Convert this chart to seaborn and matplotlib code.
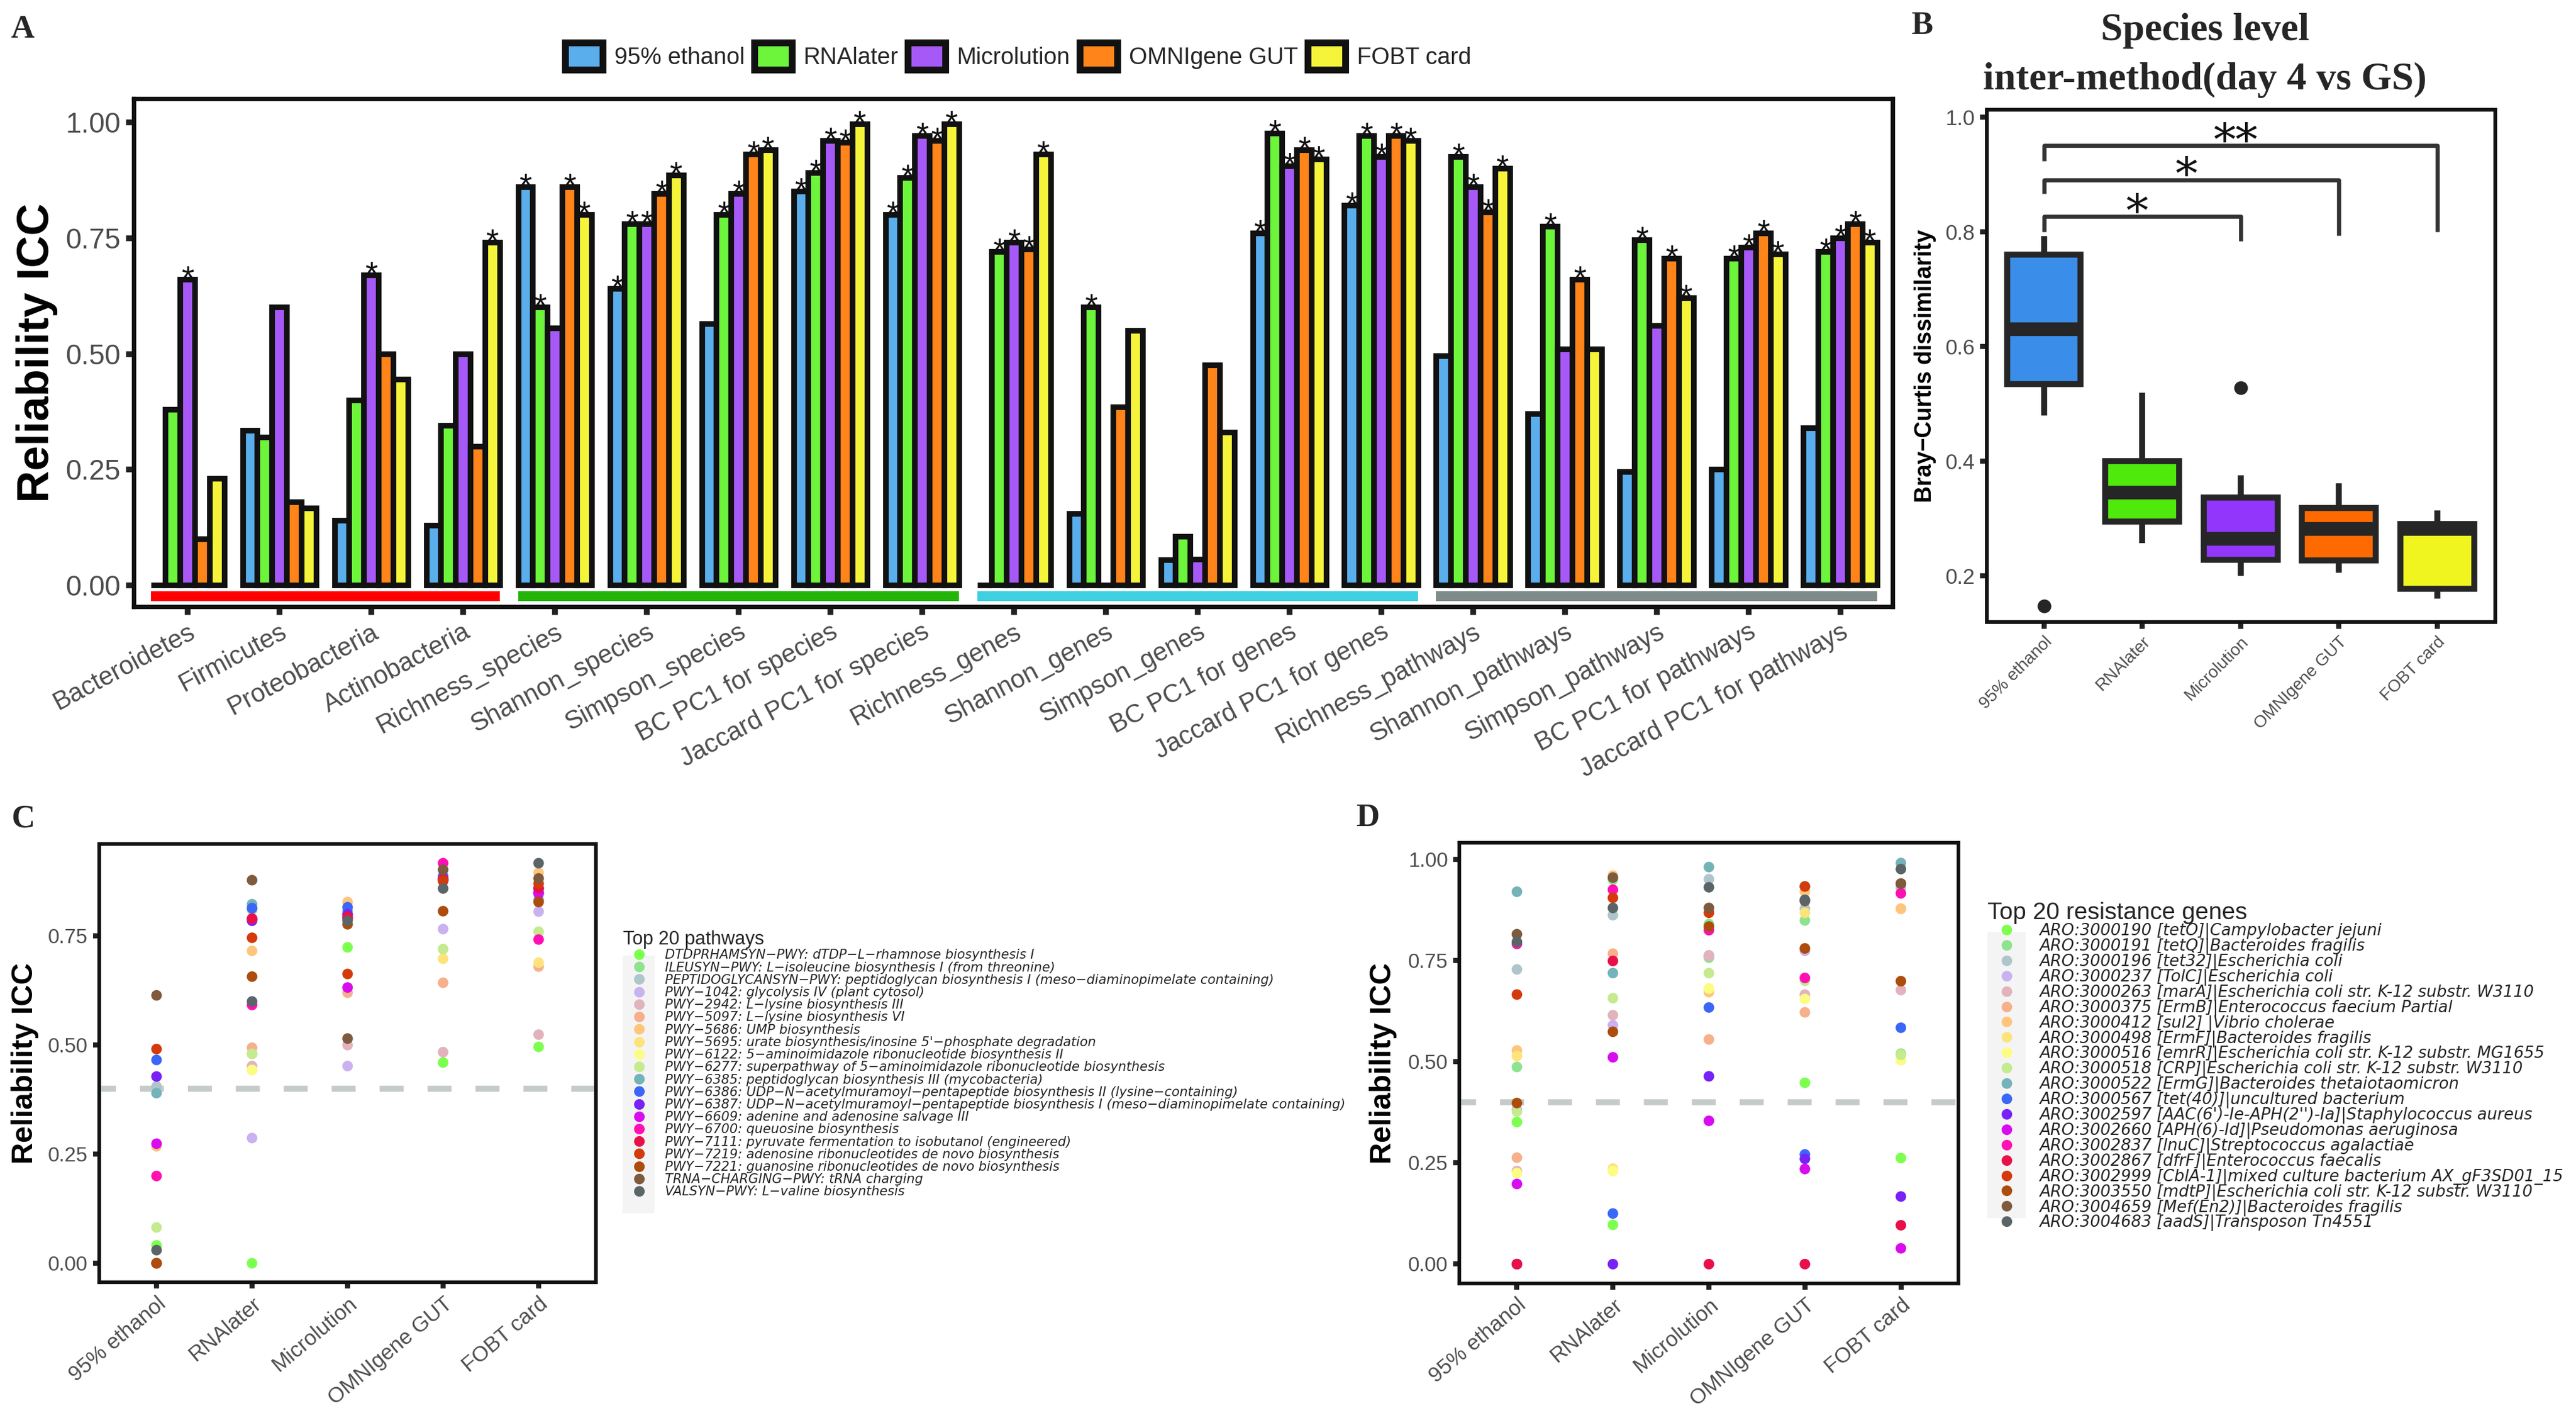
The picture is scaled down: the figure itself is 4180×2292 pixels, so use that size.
import numpy as np
import pandas as pd
import matplotlib
matplotlib.use("Agg")
import matplotlib.pyplot as plt
import seaborn as sns
from matplotlib.patches import Patch, Rectangle
from matplotlib.lines import Line2D

sns.set_theme(style="white")
plt.rcParams["font.family"] = ["Liberation Sans", "DejaVu Sans"]

# ---------------- data: panel A ----------------
methods = ["95% ethanol", "RNAlater", "Microlution", "OMNIgene GUT", "FOBT card"]
features = ["Bacteroidetes", "Firmicutes", "Proteobacteria", "Actinobacteria",
            "Richness_species", "Shannon_species", "Simpson_species", "BC PC1 for species",
            "Jaccard PC1 for species",
            "Richness_genes", "Shannon_genes", "Simpson_genes", "BC PC1 for genes",
            "Jaccard PC1 for genes",
            "Richness_pathways", "Shannon_pathways", "Simpson_pathways", "BC PC1 for pathways",
            "Jaccard PC1 for pathways"]
feature_class = ["taxa"] * 4 + ["species"] * 5 + ["genes"] * 5 + ["pathways"] * 5
class_colors = {"taxa": "#FF0000", "species": "#22B507", "genes": "#3ECFE0", "pathways": "#7F8A8A"}

icc_ethanol = [0.0, 0.335, 0.14, 0.13, 0.86, 0.64, 0.565, 0.85, 0.80,
               0.0, 0.155, 0.055, 0.76, 0.82, 0.495, 0.37, 0.245, 0.25, 0.34]
icc_rnalater = [0.38, 0.32, 0.40, 0.345, 0.60, 0.78, 0.80, 0.89, 0.88,
                0.72, 0.60, 0.105, 0.975, 0.97, 0.925, 0.775, 0.745, 0.705, 0.72]
icc_microlution = [0.66, 0.60, 0.67, 0.50, 0.555, 0.78, 0.845, 0.96, 0.97,
                   0.74, 0.0, 0.057, 0.905, 0.925, 0.86, 0.51, 0.56, 0.73, 0.75]
icc_omnigene = [0.10, 0.18, 0.50, 0.30, 0.86, 0.845, 0.93, 0.955, 0.96,
                0.725, 0.385, 0.475, 0.94, 0.97, 0.805, 0.66, 0.705, 0.76, 0.78]
icc_fobt = [0.23, 0.167, 0.445, 0.74, 0.80, 0.885, 0.94, 0.995, 0.995,
            0.93, 0.55, 0.33, 0.92, 0.96, 0.90, 0.51, 0.62, 0.715, 0.74]

sig_ethanol = [0, 0, 0, 0, 1, 1, 0, 1, 1, 0, 0, 0, 1, 1, 0, 0, 0, 0, 0]
sig_rnalater = [0, 0, 0, 0, 1, 1, 1, 1, 1, 1, 1, 0, 1, 1, 1, 1, 1, 1, 1]
sig_microlution = [1, 0, 1, 0, 0, 1, 1, 1, 1, 1, 0, 0, 1, 1, 1, 0, 0, 1, 1]
sig_omnigene = [0, 0, 0, 0, 1, 1, 1, 1, 1, 1, 0, 0, 1, 1, 1, 1, 1, 1, 1]
sig_fobt = [0, 0, 0, 1, 1, 1, 1, 1, 1, 1, 0, 0, 1, 1, 1, 0, 1, 1, 1]

colors_A = ["#5AAEEC", "#6DF53B", "#A759F7", "#FF8419", "#F5F43A"]

# ---------------- data: panel B ----------------
bc_ethanol = [0.147, 0.48, 0.535, 0.58, 0.63, 0.70, 0.76, 0.78, 0.793]
bc_rnalater = [0.257, 0.28, 0.295, 0.32, 0.345, 0.37, 0.40, 0.45, 0.52]
bc_microlution = [0.20, 0.215, 0.228, 0.25, 0.265, 0.30, 0.337, 0.375, 0.528]
bc_omnigene = [0.205, 0.215, 0.227, 0.26, 0.282, 0.30, 0.318, 0.34, 0.362]
bc_fobt = [0.16, 0.17, 0.178, 0.23, 0.282, 0.285, 0.29, 0.30, 0.314]
colors_B = ["#3A8EEA", "#4FEA0C", "#9236FB", "#FF6A00", "#F0F520"]
bracket_pairs = [(0, 2), (0, 3), (0, 4)]
bracket_y = [0.827, 0.891, 0.951]
bracket_left_end = [0.80, 0.867, 0.924]
bracket_right_end = [0.784, 0.794, 0.80]
bracket_labels = ["*", "*", "**"]

# ---------------- data: panel C ----------------
pathways = ["DTDPRHAMSYN\u2212PWY: dTDP\u2212L\u2212rhamnose biosynthesis I",
            "ILEUSYN\u2212PWY: L\u2212isoleucine biosynthesis I (from threonine)",
            "PEPTIDOGLYCANSYN\u2212PWY: peptidoglycan biosynthesis I (meso\u2212diaminopimelate containing)",
            "PWY\u22121042: glycolysis IV (plant cytosol)",
            "PWY\u22122942: L\u2212lysine biosynthesis III",
            "PWY\u22125097: L\u2212lysine biosynthesis VI",
            "PWY\u22125686: UMP biosynthesis",
            "PWY\u22125695: urate biosynthesis/inosine 5'\u2212phosphate degradation",
            "PWY\u22126122: 5\u2212aminoimidazole ribonucleotide biosynthesis II",
            "PWY\u22126277: superpathway of 5\u2212aminoimidazole ribonucleotide biosynthesis",
            "PWY\u22126385: peptidoglycan biosynthesis III (mycobacteria)",
            "PWY\u22126386: UDP\u2212N\u2212acetylmuramoyl\u2212pentapeptide biosynthesis II (lysine\u2212containing)",
            "PWY\u22126387: UDP\u2212N\u2212acetylmuramoyl\u2212pentapeptide biosynthesis I (meso\u2212diaminopimelate containing)",
            "PWY\u22126609: adenine and adenosine salvage III",
            "PWY\u22126700: queuosine biosynthesis",
            "PWY\u22127111: pyruvate fermentation to isobutanol (engineered)",
            "PWY\u22127219: adenosine ribonucleotides de novo biosynthesis",
            "PWY\u22127221: guanosine ribonucleotides de novo biosynthesis",
            "TRNA\u2212CHARGING\u2212PWY: tRNA charging",
            "VALSYN\u2212PWY: L\u2212valine biosynthesis"]
pw_ethanol = [0.041, 0.0, 0.405, 0.0, 0.0, 0.0, 0.268, 0.0, 0.0, 0.082,
              0.39, 0.466, 0.428, 0.274, 0.20, 0.0, 0.491, 0.0, 0.614, 0.03]
pw_rnalater = [0.0, 0.48, 0.81, 0.287, 0.452, 0.494, 0.716, 0.443, 0.443, 0.48,
               0.823, 0.814, 0.785, 0.789, 0.592, 0.79, 0.746, 0.657, 0.878, 0.60]
pw_microlution = [0.724, 0.80, 0.80, 0.452, 0.50, 0.62, 0.828, 0.79, 0.79, 0.79,
                  0.808, 0.816, 0.80, 0.632, 0.79, 0.794, 0.663, 0.777, 0.515, 0.785]
pw_omnigene = [0.46, 0.88, 0.88, 0.766, 0.484, 0.643, 0.88, 0.698, 0.88, 0.72,
               0.88, 0.887, 0.88, 0.88, 0.917, 0.88, 0.876, 0.807, 0.902, 0.859]
pw_fobt = [0.496, 0.85, 0.85, 0.806, 0.524, 0.68, 0.895, 0.689, 0.85, 0.76,
           0.833, 0.858, 0.85, 0.847, 0.742, 0.86, 0.87, 0.828, 0.882, 0.917]

# ---------------- data: panel D ----------------
genes = ["ARO:3000190 [tetO]|Campylobacter jejuni",
         "ARO:3000191 [tetQ]|Bacteroides fragilis",
         "ARO:3000196 [tet32]|Escherichia coli",
         "ARO:3000237 [TolC]|Escherichia coli",
         "ARO:3000263 [marA]|Escherichia coli str. K-12 substr. W3110",
         "ARO:3000375 [ErmB]|Enterococcus faecium Partial",
         "ARO:3000412 [sul2] |Vibrio cholerae",
         "ARO:3000498 [ErmF]|Bacteroides fragilis",
         "ARO:3000516 [emrR]|Escherichia coli str. K-12 substr. MG1655",
         "ARO:3000518 [CRP]|Escherichia coli str. K-12 substr. W3110",
         "ARO:3000522 [ErmG]|Bacteroides thetaiotaomicron",
         "ARO:3000567 [tet(40)]|uncultured bacterium",
         "ARO:3002597 [AAC(6')-Ie-APH(2'')-Ia]|Staphylococcus aureus",
         "ARO:3002660 [APH(6)-Id]|Pseudomonas aeruginosa",
         "ARO:3002837 [lnuC]|Streptococcus agalactiae",
         "ARO:3002867 [dfrF]|Enterococcus faecalis",
         "ARO:3002999 [CblA-1]|mixed culture bacterium AX_gF3SD01_15",
         "ARO:3003550 [mdtP]|Escherichia coli str. K-12 substr. W3110",
         "ARO:3004659 [Mef(En2)]|Bacteroides fragilis",
         "ARO:3004683 [aadS]|Transposon Tn4551"]
gene_ethanol = [0.351, 0.487, 0.728, 0.382, 0.23, 0.263, 0.528, 0.514, 0.225, 0.377,
                0.92, 0.0, 0.0, 0.198, 0.791, 0.0, 0.666, 0.398, 0.815, 0.796]
gene_rnalater = [0.097, 0.95, 0.862, 0.59, 0.615, 0.767, 0.96, 0.236, 0.23, 0.657,
                 0.719, 0.125, 0.0, 0.511, 0.925, 0.749, 0.905, 0.574, 0.955, 0.88]
gene_microlution = [0.757, 0.84, 0.951, 0.76, 0.763, 0.555, 0.672, 0.68, 0.681, 0.719,
                    0.981, 0.634, 0.464, 0.354, 0.825, 0.0, 0.868, 0.834, 0.88, 0.931]
gene_omnigene = [0.448, 0.849, 0.878, 0.774, 0.666, 0.622, 0.92, 0.868, 0.655, 0.70,
                 0.933, 0.271, 0.26, 0.235, 0.707, 0.0, 0.933, 0.78, 0.897, 0.90]
gene_fobt = [0.262, 0.52, 0.93, 0.94, 0.677, 0.878, 0.878, 0.504, 0.504, 0.517,
             0.991, 0.584, 0.167, 0.039, 0.916, 0.096, 0.94, 0.699, 0.94, 0.976]

dot_palette = ["#7CFF4E", "#8FE38E", "#AFC5CC", "#C9B2EF", "#E2B3BD", "#F7B08C", "#FEC67C",
               "#FEE37D", "#FDFC82", "#C5EA8F", "#74B3B8", "#3B67F7", "#7822F6", "#D80CEE",
               "#FF10B3", "#E9104A", "#D43A0A", "#AC4C0D", "#7E5A3E", "#5B6567"]
threshold = 0.4

# ---------------- figure ----------------
W, H = 4180, 2292
DPI = 200
fig = plt.figure(figsize=(W / DPI, H / DPI), dpi=DPI)
fig.patch.set_facecolor("white")

def px_rect(l, t, r, b):
    return [l / W, 1 - b / H, (r - l) / W, (b - t) / H]

TICKC = "#4D4D4D"

def style_axes(ax, spine_lw, tick_len, tick_w, lab_size):
    for s in ax.spines.values():
        s.set_visible(True)
        s.set_color("#111111")
        s.set_linewidth(spine_lw)
    ax.tick_params(axis="both", which="major", length=tick_len, width=tick_w,
                   color="#222222", labelcolor=TICKC, labelsize=lab_size, direction="out",
                   left=True, bottom=True, pad=3)
    ax.grid(False)
    ax.set_facecolor("white")

# ---------- Panel A ----------
axA = fig.add_axes(px_rect(217, 160, 3071, 984))
dfA = pd.DataFrame({
    "feature": features * 5,
    "method": sum([[m] * len(features) for m in methods], []),
    "icc": icc_ethanol + icc_rnalater + icc_microlution + icc_omnigene + icc_fobt,
})
sns.barplot(data=dfA, x="feature", y="icc", hue="method", order=features, hue_order=methods,
            palette=colors_A, saturation=1, width=0.8, edgecolor="#111111", linewidth=3.3,
            errorbar=None, legend=False, ax=axA)
sigs = [sig_ethanol, sig_rnalater, sig_microlution, sig_omnigene, sig_fobt]
for j, cont in enumerate(axA.containers):
    for i, bar in enumerate(cont):
        if sigs[j][i]:
            axA.text(bar.get_x() + bar.get_width() / 2, bar.get_height() - 0.02, "*",
                     ha="center", va="baseline", fontsize=19, color="#111111")
ticks = axA.get_xticks()
for cls in ["taxa", "species", "genes", "pathways"]:
    idx = [k for k, c in enumerate(feature_class) if c == cls]
    axA.plot([ticks[idx[0]] - 0.4, ticks[idx[-1]] + 0.4], [-0.023, -0.023],
             color=class_colors[cls], lw=5.8, solid_capstyle="butt")
axA.set_xlim(-0.585, 18.57)
axA.set_ylim(-0.046, 1.05)
axA.set_yticks([0, 0.25, 0.5, 0.75, 1.0])
axA.set_yticklabels(["0.00", "0.25", "0.50", "0.75", "1.00"])
style_axes(axA, 2.6, 4.6, 3.4, 16.5)
axA.tick_params(axis="x", labelsize=15)
for lab in axA.get_xticklabels():
    lab.set_rotation(28)
    lab.set_ha("right")
    lab.set_rotation_mode("anchor")
axA.set_xlabel("")
axA.set_ylabel("Reliability ICC", fontsize=26, fontweight="bold", color="black")
axA.yaxis.set_label_coords(-0.043, 0.5)

legA = fig.legend([Patch(facecolor=c, edgecolor="#111111", linewidth=4) for c in colors_A], methods,
                  loc="center", bbox_to_anchor=(1652 / W, 1 - 91 / H), ncol=5, frameon=False,
                  fontsize=13.7, handlelength=1.6, handleheight=1.4, handletextpad=0.5,
                  columnspacing=0.4)

# ---------- Panel B ----------
axB = fig.add_axes(px_rect(3224, 178, 4049, 1009))
bc_all = [bc_ethanol, bc_rnalater, bc_microlution, bc_omnigene, bc_fobt]
dfB = pd.DataFrame({"method": sum([[m] * len(v) for m, v in zip(methods, bc_all)], []),
                    "bc": sum(bc_all, [])})
sns.boxplot(data=dfB, x="method", y="bc", hue="method", order=methods, hue_order=methods,
            palette=colors_B, saturation=1, width=0.75, linewidth=3.5, linecolor="#262626",
            showcaps=False, fliersize=7, whis=1.5,
            medianprops={"linewidth": 8, "color": "#262626"},
            flierprops={"marker": "o", "markerfacecolor": "#262626", "markeredgecolor": "#262626"},
            legend=False, ax=axB)
for (a, b), y, yl, yr, lab in zip(bracket_pairs, bracket_y, bracket_left_end,
                                  bracket_right_end, bracket_labels):
    axB.plot([a, a, b, b], [yl, y, y, yr], color="#333333", lw=2.4, solid_capstyle="butt")
    axB.text((a + b) / 2 - 0.05, y - 0.018, lab, ha="center", va="baseline",
             fontsize=26, color="#111111", family=["DejaVu Serif"])
axB.set_xlim(-0.58, 4.59)
axB.set_ylim(0.1195, 1.0132)
axB.set_yticks([0.2, 0.4, 0.6, 0.8, 1.0])
axB.set_yticklabels(["0.2", "0.4", "0.6", "0.8", "1.0"])
style_axes(axB, 2.2, 3.8, 3.0, 12.5)
axB.tick_params(axis="x", labelsize=10)
for lab in axB.get_xticklabels():
    lab.set_rotation(45)
    lab.set_ha("right")
    lab.set_rotation_mode("anchor")
axB.set_xlabel("")
axB.set_ylabel("Bray\u2212Curtis dissimilarity", fontsize=13.5, fontweight="bold", color="black")
axB.yaxis.set_label_coords(-0.10, 0.5)
fig.text(3578 / W, 1 - 50 / H, "Species level", ha="center", va="center", fontsize=23,
         fontweight="bold", family=["Liberation Serif"])
fig.text(3578 / W, 1 - 130 / H, "inter-method(day 4 vs GS)", ha="center", va="center",
         fontsize=23, fontweight="bold", family=["Liberation Serif"])

# ---------- Panels C and D ----------
def dot_panel(ax, names, vals_by_method, ylim, yt, ylabs):
    df = pd.DataFrame({"method": sum([[m] * len(names) for m in methods], []),
                       "item": names * len(methods),
                       "icc": sum(vals_by_method, [])})
    sns.stripplot(data=df, x="method", y="icc", hue="item", hue_order=names, order=methods,
                  palette=dot_palette, jitter=False, dodge=False, size=6.2, linewidth=0,
                  legend=False, ax=ax)
    ax.axhline(threshold, color="#C4CBC8", lw=3.5, ls=(1.2, (4, 4)), zorder=0.5)
    ax.set_xlim(-0.6, 4.6)
    ax.set_ylim(*ylim)
    ax.set_yticks(yt)
    ax.set_yticklabels(ylabs)
    style_axes(ax, 2.1, 3.6, 3.0, 12)
    ax.tick_params(axis="x", labelsize=12.5)
    for lab in ax.get_xticklabels():
        lab.set_rotation(40)
        lab.set_ha("right")
        lab.set_rotation_mode("anchor")
    ax.set_xlabel("")
    ax.set_ylabel("Reliability ICC", fontsize=17.5, fontweight="bold", color="black")

axC = fig.add_axes(px_rect(161, 1369, 967, 2080))
dot_panel(axC, pathways, [pw_ethanol, pw_rnalater, pw_microlution, pw_omnigene, pw_fobt],
          (-0.0437, 0.961), [0, 0.25, 0.5, 0.75], ["0.00", "0.25", "0.50", "0.75"])
axC.yaxis.set_label_coords(-0.1216, 0.5)

axD = fig.add_axes(px_rect(2368, 1367, 3178, 2082))
dot_panel(axD, genes, [gene_ethanol, gene_rnalater, gene_microlution, gene_omnigene, gene_fobt],
          (-0.048, 1.041), [0, 0.25, 0.5, 0.75, 1.0], ["0.00", "0.25", "0.50", "0.75", "1.00"])
axD.yaxis.set_label_coords(-0.125, 0.5)

# legends for C and D (light grey key background like ggplot)
fig.patches.append(Rectangle((1010 / W, 1 - 1968 / H), 52 / W, 418 / H, transform=fig.transFigure,
                             facecolor="#F4F4F4", edgecolor="none", zorder=0))
fig.patches.append(Rectangle((3225 / W, 1 - 1976 / H), 62 / W, 464 / H, transform=fig.transFigure,
                             facecolor="#F4F4F4", edgecolor="none", zorder=0))

def dot_handles():
    return [Line2D([], [], marker="o", ls="", markersize=5.2, markerfacecolor=c,
                   markeredgecolor=c) for c in dot_palette]

legC = fig.legend(dot_handles(), pathways, loc="upper left",
                  bbox_to_anchor=(1007 / W, 1 - 1505 / H), frameon=False,
                  prop={"family": ["DejaVu Sans"], "style": "italic", "size": 7.6},
                  title="Top 20 pathways", title_fontproperties={"size": 11},
                  alignment="left", labelspacing=0.01, handlelength=2.43, handletextpad=0.76,
                  borderpad=0.2, borderaxespad=0)
legD = fig.legend(dot_handles(), genes, loc="upper left",
                  bbox_to_anchor=(3220 / W, 1 - 1458 / H), frameon=False,
                  prop={"family": ["DejaVu Sans"], "style": "italic", "size": 9.4},
                  title="Top 20 resistance genes", title_fontproperties={"size": 14},
                  alignment="left", labelspacing=-0.08, handlelength=2.37, handletextpad=0.84,
                  borderpad=0.2, borderaxespad=0)

# panel letters
for letter, (x, y) in zip("ABCD", [(37, 48), (3119, 42), (37, 1329), (2219, 1327)]):
    fig.text(x / W, 1 - y / H, letter, ha="center", va="center", fontsize=19,
             fontweight="bold", family=["Liberation Serif"])

fig.savefig("out.png", dpi=DPI, facecolor="white")
